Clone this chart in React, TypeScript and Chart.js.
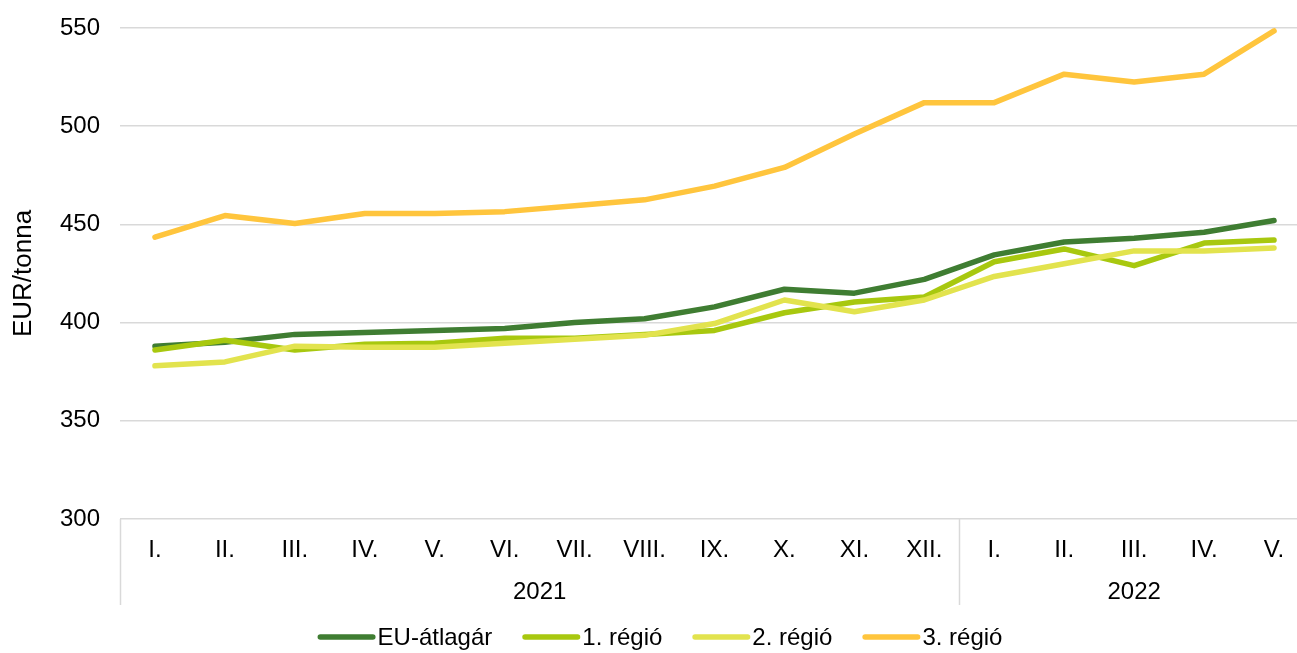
import React, { useEffect, useRef } from "react";
import { Chart, registerables } from "chart.js";

Chart.register(...registerables);

const months = ["I.", "II.", "III.", "IV.", "V.", "VI.", "VII.", "VIII.", "IX.", "X.", "XI.", "XII.", "I.", "II.", "III.", "IV.", "V."];
const years = ["2021", "2022"];
const yearSpans = [12, 5];
const yTicks = [300, 350, 400, 450, 500, 550];

const euAvg = [388, 390, 394, 395, 396, 397, 400, 402, 408, 417, 415, 422, 434.5, 441, 443, 446, 452];
const region1 = [386, 391, 386, 389, 389.5, 392, 392, 394, 396, 405, 410.5, 413, 431, 437.5, 429, 440.5, 442];
const region2 = [378, 380, 388, 387.5, 387.5, 389.5, 391.5, 393.5, 399.5, 411.5, 405.5, 411.5, 423.5, 430, 436.5, 436.5, 438];
const region3 = [443.5, 454.5, 450.5, 455.5, 455.5, 456.5, 459.5, 462.5, 469.5, 479, 496, 512, 512, 526.5, 522.5, 526.5, 548.5];

const seriesNames = ["EU-átlagár", "1. régió", "2. régió", "3. régió"];
const seriesColors = ["#3F7D32", "#A8C80F", "#E2E34E", "#FFC53D"];
const yTitle = "EUR/tonna";

const FONT = "'Liberation Sans', Arial, Helvetica, sans-serif";
const FONT_SIZE = 24;

export default function App() {
  const canvasRef = useRef<HTMLCanvasElement>(null);

  useEffect(() => {
    const canvas = canvasRef.current;
    if (!canvas) return;

    const extrasPlugin = {
      id: "extras",
      afterDraw(chart: any) {
        const ctx = chart.ctx as CanvasRenderingContext2D;
        const xs = chart.scales.x;
        const area = chart.chartArea;
        const step = xs.getPixelForValue(1) - xs.getPixelForValue(0);
        ctx.save();
        // year groups
        ctx.strokeStyle = "#d9d9d9";
        ctx.lineWidth = 1.5;
        ctx.fillStyle = "#000";
        ctx.font = `${FONT_SIZE}px ${FONT}`;
        ctx.textAlign = "center";
        ctx.textBaseline = "alphabetic";
        let start = 0;
        const bounds: number[] = [];
        yearSpans.forEach((n, i) => {
          const l = xs.getPixelForValue(start) - step / 2;
          const r = xs.getPixelForValue(start + n - 1) + step / 2;
          if (i === 0) bounds.push(l);
          bounds.push(r);
          ctx.fillText(years[i], (l + r) / 2, 599);
          start += n;
        });
        bounds.forEach((bx) => {
          ctx.beginPath();
          ctx.moveTo(Math.round(bx) + 0.5, area.bottom);
          ctx.lineTo(Math.round(bx) + 0.5, 605);
          ctx.stroke();
        });

        // legend
        const swatch = 58;
        const gapText = 2;
        const gapItem = 30;
        ctx.textAlign = "left";
        ctx.textBaseline = "middle";
        const widths = seriesNames.map((s) => ctx.measureText(s).width);
        const total = widths.reduce((a, w) => a + swatch + gapText + w, 0) + gapItem * (seriesNames.length - 1);
        let x = 660 - total / 2;
        const ly = 637;
        seriesNames.forEach((name, i) => {
          ctx.strokeStyle = seriesColors[i];
          ctx.lineWidth = 5.5;
          ctx.lineCap = "round";
          ctx.beginPath();
          ctx.moveTo(x + 2.75, ly);
          ctx.lineTo(x + swatch - 2.75, ly);
          ctx.stroke();
          ctx.fillStyle = "#000";
          ctx.fillText(name, x + swatch + gapText, ly + 1);
          x += swatch + gapText + widths[i] + gapItem;
        });
        ctx.restore();
      },
    };

    const data = [euAvg, region1, region2, region3];
    const chart = new Chart(canvas, {
      type: "line",
      data: {
        labels: months,
        datasets: data.map((d, i) => ({
          label: seriesNames[i],
          data: d,
          borderColor: seriesColors[i],
          backgroundColor: seriesColors[i],
          borderWidth: 5.5,
          pointRadius: 0,
          pointHoverRadius: 0,
          borderCapStyle: "round" as const,
          borderJoinStyle: "round" as const,
          tension: 0,
          fill: false,
          order: 4 - i,
        })),
      },
      options: {
        responsive: false,
        animation: false,
        events: [],
        layout: { padding: { top: 28, left: 0, right: 0, bottom: 0 } },
        plugins: {
          legend: { display: false },
          tooltip: { enabled: false },
          title: { display: false },
        },
        scales: {
          x: {
            type: "category",
            offset: true,
            grid: { display: false, drawTicks: false },
            border: { display: false },
            ticks: {
              color: "#000",
              font: { family: FONT, size: FONT_SIZE },
              padding: 17,
              maxRotation: 0,
              autoSkip: false,
            },
            afterFit(scale: any) {
              scale.height = 134;
            },
          },
          y: {
            min: 300,
            max: 550,
            afterBuildTicks(scale: any) {
              scale.ticks = yTicks.map((v) => ({ value: v }));
            },
            grid: { color: "#d9d9d9", lineWidth: 1.5, drawTicks: false },
            border: { display: false },
            ticks: {
              color: "#000",
              font: { family: FONT, size: FONT_SIZE },
              padding: 20,
            },
            title: {
              display: true,
              text: yTitle,
              color: "#000",
              font: { family: FONT, size: 26 },
              padding: { top: 8, bottom: 0 },
            },
            afterFit(scale: any) {
              scale.width = 120;
              scale.paddingTop = 0;
              scale.paddingBottom = 0;
            },
          },
        },
      },
      plugins: [extrasPlugin],
    });
    return () => chart.destroy();
  }, []);

  return (
    <div style={{ position: "absolute", left: 0, top: 0, width: 1297, height: 653, overflow: "hidden", background: "#fff" }}>
      <canvas ref={canvasRef} width={1309} height={653} style={{ display: "block", width: 1309, height: 653 }} />
    </div>
  );
}
